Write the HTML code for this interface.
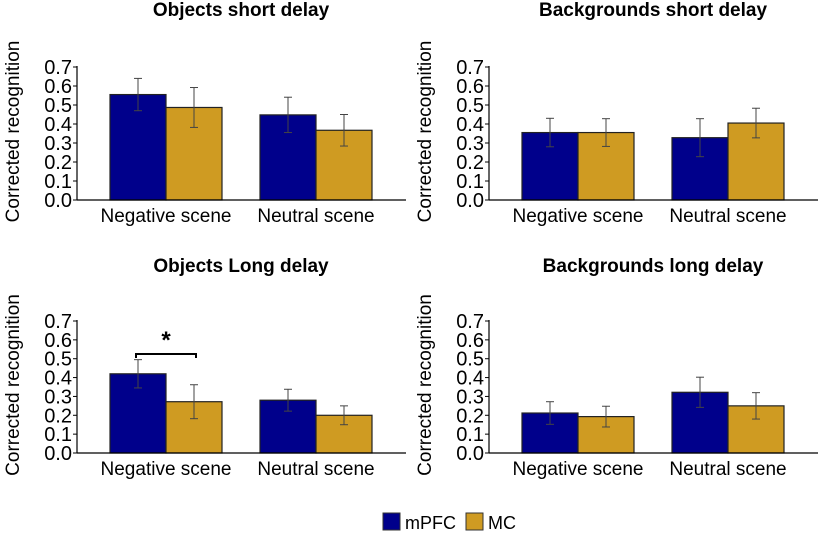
<!DOCTYPE html>
<html><head><meta charset="utf-8"><style>
html,body{margin:0;padding:0;background:#fff;}
svg{display:block;font-family:"Liberation Sans",Arial,sans-serif;}
</style></head><body>
<svg id="chart" width="820" height="533" viewBox="0 0 820 533"></svg>
<script>
const categories = ["Negative scene", "Neutral scene"];
const seriesNames = ["mPFC", "MC"];
const panelTitles = ["Objects short delay", "Backgrounds short delay", "Objects Long delay", "Backgrounds long delay"];
const mpfcValues = [[0.555, 0.448], [0.355, 0.328], [0.42, 0.28], [0.212, 0.322]];
const mcValues = [[0.487, 0.367], [0.355, 0.405], [0.272, 0.2], [0.193, 0.25]];
const mpfcErrors = [[0.085, 0.093], [0.075, 0.1], [0.075, 0.058], [0.06, 0.08]];
const mcErrors = [[0.105, 0.083], [0.073, 0.078], [0.09, 0.05], [0.055, 0.07]];
const yTicks = [0.0, 0.1, 0.2, 0.3, 0.4, 0.5, 0.6, 0.7];
const yTickLabels = ["0.0", "0.1", "0.2", "0.3", "0.4", "0.5", "0.6", "0.7"];

const svg = document.getElementById('chart');
const NS = 'http://www.w3.org/2000/svg';
const colors = ['#00008b', '#cf9b22'];
function mk(tag, attrs, parent){const e=document.createElementNS(NS,tag);for(const k in attrs)e.setAttribute(k,attrs[k]);(parent||svg).appendChild(e);return e;}

const panels = [
  {ax:77, zero:200, top:67, ty:16},
  {ax:489, zero:200, top:67, ty:16},
  {ax:77, zero:453, top:321, ty:272},
  {ax:489, zero:453, top:321, ty:272}
];

panels.forEach((p,pi)=>{
  const g = mk('g',{});
  
  
  const y = v => p.zero - (v/0.7)*(p.zero-p.top);
  const groupStart = [p.ax+33, p.ax+183];
  const bw = 56;
  const x = (ci,si) => groupStart[ci] + si*bw;

  const t = mk('text',{x:p.ax+164, y:p.ty, 'text-anchor':'middle','font-size':19,'font-weight':'bold',fill:'#000'},g);
  t.textContent = panelTitles[pi];
  
  

  const yt = mk('text',{transform:`translate(${p.ax-58},${(p.zero+p.top)/2-2}) rotate(-90)`,'text-anchor':'middle','font-size':19,fill:'#000'},g);
  yt.textContent = 'Corrected recognition';
  
  

  yTicks.forEach((v,i)=>{
    mk('line',{x1:p.ax-4,x2:p.ax,y1:y(v),y2:y(v),stroke:'#000','stroke-width':1},g);
    const tl = mk('text',{x:p.ax-5,y:y(v)+7,'text-anchor':'end','font-size':20,fill:'#000'},g);
    tl.textContent = yTickLabels[i];
    
    
  });

  categories.forEach((c,ci)=>{
    [mpfcValues, mcValues].forEach((vals,si)=>{
      const v = vals[pi][ci];
      const r = mk('rect',{x:x(ci,si), y:y(v), width:bw, height:p.zero-y(v), fill:colors[si], stroke:'#222','stroke-width':1.2},g);
      
      
      const e = (si===0?mpfcErrors:mcErrors)[pi][ci];
      const cx = x(ci,si)+bw/2;
      const eg = mk('g',{stroke:'#444','stroke-width':1},g);
      
      
      mk('line',{x1:cx,x2:cx,y1:y(v+e),y2:y(v-e)},eg);
      mk('line',{x1:cx-4,x2:cx+4,y1:y(v+e),y2:y(v+e)},eg);
      mk('line',{x1:cx-4,x2:cx+4,y1:y(v-e),y2:y(v-e)},eg);
    });
    const cl = mk('text',{x:groupStart[ci]+bw, y:p.zero+22,'text-anchor':'middle','font-size':19,fill:'#000'},g);
    cl.textContent = c;
    
    
  });

  mk('line',{x1:p.ax,x2:p.ax,y1:p.top-1,y2:p.zero,stroke:'#000','stroke-width':1.2},g);
  mk('line',{x1:p.ax,x2:p.ax+329,y1:p.zero,y2:p.zero,stroke:'#000','stroke-width':1.2},g);

  if(pi===2){
    const b = mk('g',{},g);
    
    
    mk('path',{d:`M${x(0,0)+26},358 L${x(0,0)+26},354 L${x(0,1)+30},354 L${x(0,1)+30},358`,fill:'none',stroke:'#000','stroke-width':2},b);
    const s = mk('text',{x:x(0,1),y:348,'text-anchor':'middle','font-size':24,'font-weight':'bold',fill:'#000'},b);
    s.textContent='*';
  }
});

const lg = mk('g',{});


const lx = [383, 466];
seriesNames.forEach((n,i)=>{
  const e = mk('g',{},lg);
  
  
  mk('rect',{x:lx[i],y:513,width:17,height:17,fill:colors[i],stroke:'#333','stroke-width':1},e);
  const t = mk('text',{x:lx[i]+22,y:529,'font-size':18,fill:'#000'},e);
  t.textContent = n;
});
</script>
</body></html>
